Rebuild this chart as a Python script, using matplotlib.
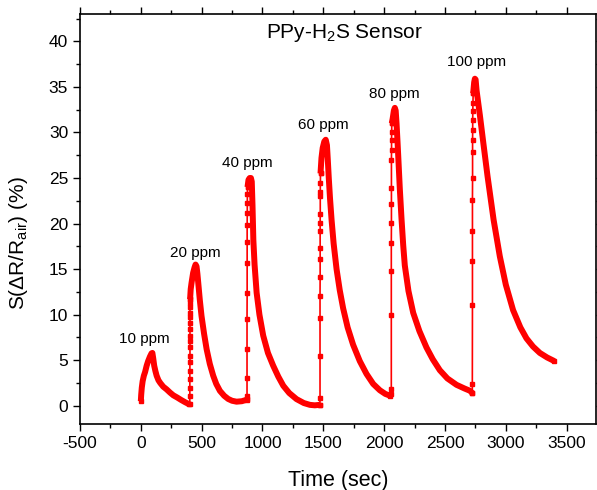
import matplotlib
matplotlib.use("Agg")
import matplotlib.pyplot as plt
from matplotlib.ticker import MultipleLocator

plt.rcParams['font.family'] = ['Liberation Sans', 'DejaVu Sans']
plt.rcParams['mathtext.fontset'] = 'custom'
plt.rcParams['mathtext.rm'] = 'Liberation Sans'
plt.rcParams['mathtext.it'] = 'Liberation Sans:italic'
plt.rcParams['axes.unicode_minus'] = False

# response curves (time in sec, S in %)
# 10 ppm: exposure + recovery
t10 = [0, 3, 8, 15, 25, 35, 48, 60, 75, 88, 95, 102, 110, 120, 130, 145, 160, 184,
       212, 240, 267, 300, 330, 363, 385, 400]
s10 = [0.5, 1.2, 2.0, 2.7, 3.3, 3.7, 4.4, 4.9, 5.4, 5.75, 5.8, 5.2, 4.4, 3.8, 3.3, 2.8,
       2.5, 2.1, 1.8, 1.45, 1.15, 0.9, 0.65, 0.4, 0.25, 0.15]

# 20 ppm
rise20_t = [402, 403, 403, 403, 403, 404, 404, 404, 404, 404, 404, 404, 404, 404, 404, 404, 405]
rise20_s = [0.2, 1.1, 2.0, 2.9, 3.8, 4.75, 5.5, 6.4, 7.1, 7.7, 8.4, 9.1, 9.7, 10.2, 10.8, 11.3, 11.7]
dec20_t = [405, 410, 417, 430, 442, 450, 458, 465, 472, 485, 499, 520, 541, 567, 595, 620,
           650, 685, 718, 750, 787, 830, 870]
dec20_s = [11.7, 12.8, 13.5, 14.6, 15.2, 15.5, 15.3, 14.5, 13.5, 11.6, 9.85, 7.9, 6.2, 4.6,
           3.3, 2.4, 1.64, 1.1, 0.75, 0.55, 0.45, 0.5, 0.66]

# 40 ppm
rise40_t = [872, 873, 873, 873, 873, 874, 874, 874, 874, 875, 875, 876, 877]
rise40_s = [0.7, 1.1, 3.1, 6.2, 9.5, 12.4, 15.7, 18.0, 19.8, 21.2, 22.3, 23.2, 24.0]
dec40_t = [877, 885, 895, 905, 912, 918, 925, 935, 952, 975, 1006, 1045, 1088, 1130, 1171,
           1220, 1280, 1340, 1390, 1430, 1470]
dec40_s = [24.0, 24.8, 25.0, 25.0, 24.6, 22.0, 18.2, 15.5, 12.4, 10.0, 7.7, 5.8, 4.4, 3.2,
           2.2, 1.4, 0.73, 0.3, 0.1, 0.05, 0.1]

# 60 ppm
rise60_t = [1472, 1473, 1473, 1473, 1473, 1474, 1474, 1474, 1474, 1474, 1475, 1475, 1475, 1476, 1477]
rise60_s = [0.1, 0.8, 5.5, 9.6, 12.0, 14.1, 16.1, 17.3, 19.2, 20.1, 21.0, 23.0, 23.5, 24.5, 25.5]
dec60_t = [1477, 1485, 1495, 1508, 1520, 1530, 1537, 1545, 1555, 1568, 1585, 1609, 1635, 1663,
           1700, 1745, 1800, 1855, 1910, 1965, 2010, 2050]
dec60_s = [25.5, 27.2, 28.3, 29.0, 29.2, 28.6, 27.0, 25.0, 22.8, 20.4, 17.8, 15.0, 12.7, 10.7,
           8.6, 6.7, 4.9, 3.5, 2.4, 1.7, 1.3, 1.1]

# 80 ppm
rise80_t = [2058, 2059, 2059, 2059, 2059, 2060, 2060, 2060, 2060, 2061, 2061, 2062, 2063]
rise80_s = [1.3, 1.8, 10.0, 14.8, 17.9, 20.1, 22.1, 23.9, 27.0, 28.1, 29.2, 30.0, 31.0]
dec80_t = [2063, 2070, 2080, 2088, 2095, 2102, 2110, 2116, 2129, 2143, 2157, 2170, 2200, 2239,
           2290, 2348, 2400, 2458, 2520, 2595, 2660, 2705, 2725]
dec80_s = [31.0, 31.5, 32.4, 32.7, 32.4, 31.0, 29.0, 27.4, 23.8, 20.5, 17.6, 15.4, 12.6, 10.2,
           8.2, 6.4, 5.1, 3.9, 3.0, 2.3, 1.9, 1.65, 1.4]

# 100 ppm
rise100_t = [2725, 2725, 2726, 2726, 2726, 2726, 2727, 2727, 2727, 2728, 2728, 2729, 2730, 2732]
rise100_s = [1.4, 2.4, 11.1, 15.9, 19.2, 22.6, 25.0, 27.9, 29.2, 30.3, 31.4, 32.3, 33.2, 34.3]
dec100_t = [2732, 2740, 2746, 2752, 2760, 2787, 2814, 2850, 2900, 2951, 3000, 3060, 3120, 3170,
            3224, 3280, 3340, 3400]
dec100_s = [34.3, 35.5, 35.9, 35.8, 34.6, 31.9, 29.0, 25.2, 20.4, 16.4, 13.3, 10.5, 8.6, 7.4,
            6.5, 5.8, 5.3, 4.9]

labels = ['10 ppm', '20 ppm', '40 ppm', '60 ppm', '80 ppm', '100 ppm']
label_t = [30, 445, 872, 1497, 2083, 2760]
label_s = [7.3, 16.8, 26.7, 30.8, 34.2, 37.7]

red = '#ff0000'

fig = plt.figure(figsize=(5.97, 4.90), dpi=100)
ax = fig.add_axes([0.134, 0.1347, 0.864, 0.8367])

rises = [(rise20_t, rise20_s), (rise40_t, rise40_s), (rise60_t, rise60_s),
         (rise80_t, rise80_s), (rise100_t, rise100_s)]
decays = [(t10, s10), (dec20_t, dec20_s), (dec40_t, dec40_s), (dec60_t, dec60_s),
          (dec80_t, dec80_s), (dec100_t, dec100_s)]

for t, s in rises:
    ax.plot(t, s, color=red, lw=1.2, marker='s', ms=2.8, mec=red, mfc=red)
for t, s in decays:
    ax.plot(t, s, color=red, lw=4.3, solid_capstyle='butt', solid_joinstyle='round')
    ax.plot(t[:1] + t[-1:], s[:1] + s[-1:], ls='none', marker='s', ms=3.5, color=red)

for lab, x, y in zip(labels, label_t, label_s):
    ax.text(x, y, lab, fontsize=11, ha='center', va='center')

ax.text(0.512, 0.954, r'PPy-H$_2$S Sensor', transform=ax.transAxes, fontsize=15,
        ha='center', va='center')

ax.set_xlim(-500, 3740)
ax.set_ylim(-2, 43)
ax.xaxis.set_major_locator(MultipleLocator(500))
ax.xaxis.set_minor_locator(MultipleLocator(250))
ax.yaxis.set_major_locator(MultipleLocator(5))
ax.yaxis.set_minor_locator(MultipleLocator(2.5))
ax.tick_params(which='both', direction='out', top=True, right=True, width=1.0, labelsize=12.5)
ax.tick_params(which='major', length=5)
ax.tick_params(which='minor', length=3)
for sp in ax.spines.values():
    sp.set_linewidth(1.2)

ax.set_xlabel('Time (sec)', fontsize=15.5, labelpad=14)
ax.set_ylabel(r'S(ΔR/R$_{\mathrm{air}}$) (%)', fontsize=15)
ax.yaxis.set_label_coords(-0.097, 0.44)

fig.savefig('out.png', dpi=100)
